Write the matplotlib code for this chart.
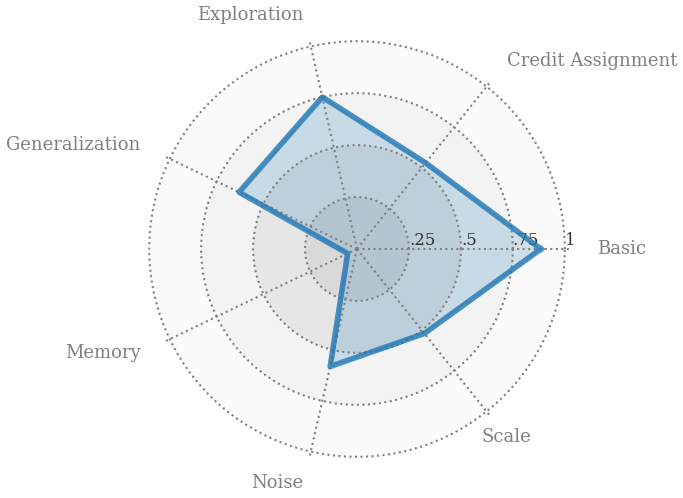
import numpy as np
import matplotlib.pyplot as plt

tags = ["Basic", "Credit Assignment", "Exploration", "Generalization",
        "Memory", "Noise", "Scale"]
scores = [0.885, 0.53, 0.75, 0.63, 0.05, 0.58, 0.52]

ring_levels = [1.0, 0.75, 0.5, 0.25]
ring_colors = ["#fbfbfb", "#f3f3f3", "#e6e6e6", "#d9d9d9"]
rtick_vals = [0.25, 0.5, 0.75, 1.0]
rtick_labels = [".25", ".5", ".75", "1"]

plt.rcParams["font.family"] = "DejaVu Serif"

fig = plt.figure(figsize=(6.83, 4.98), dpi=100, facecolor="white")
R = 213.0
w = 2 * R / 683
h = 2 * R / 498
ax = fig.add_axes([357 / 683 - w / 2, 0.5 - h / 2, w, h], polar=True)
ax.set_facecolor("white")

# background rings
circ = np.linspace(0, 2 * np.pi, 400)
for lev, col in zip(ring_levels, ring_colors):
    ax.fill(circ, np.full_like(circ, lev), color=col, zorder=0, lw=0)

angles = np.linspace(0, 2 * np.pi, len(tags), endpoint=False)
vals = np.concatenate((scores, [scores[0]]))
angs = np.concatenate((angles, [angles[0]]))
ax.plot(angs, vals, "-", linewidth=4, c="#1f77b4", alpha=0.8, zorder=3)
ax.fill(angs, vals, alpha=0.2, color="#1f77b4", zorder=2)

ax.set_thetagrids(np.rad2deg(angles), tags, fontsize=13, color="gray")
for lab, a in zip(ax.get_xticklabels()[:-1], np.rad2deg(angles)[:-1]):
    if 90 <= a <= 270:
        lab.set_horizontalalignment("right")
    else:
        lab.set_horizontalalignment("left")
ax.tick_params(axis="x", length=0, pad=12.5)

ax.set_rlim(0, 1.025)
ax.set_yticks(rtick_vals)
ax.set_yticklabels(rtick_labels, fontsize=12, color="#333333")
ax.set_rlabel_position(0)
ax.tick_params(axis="y", length=0)
ax.grid(True, linestyle=":", color="gray", linewidth=1.5, zorder=1)
ax.set_axisbelow(False)
ax.spines["polar"].set_visible(False)

fig.savefig("out.png", dpi=100, facecolor="white")
